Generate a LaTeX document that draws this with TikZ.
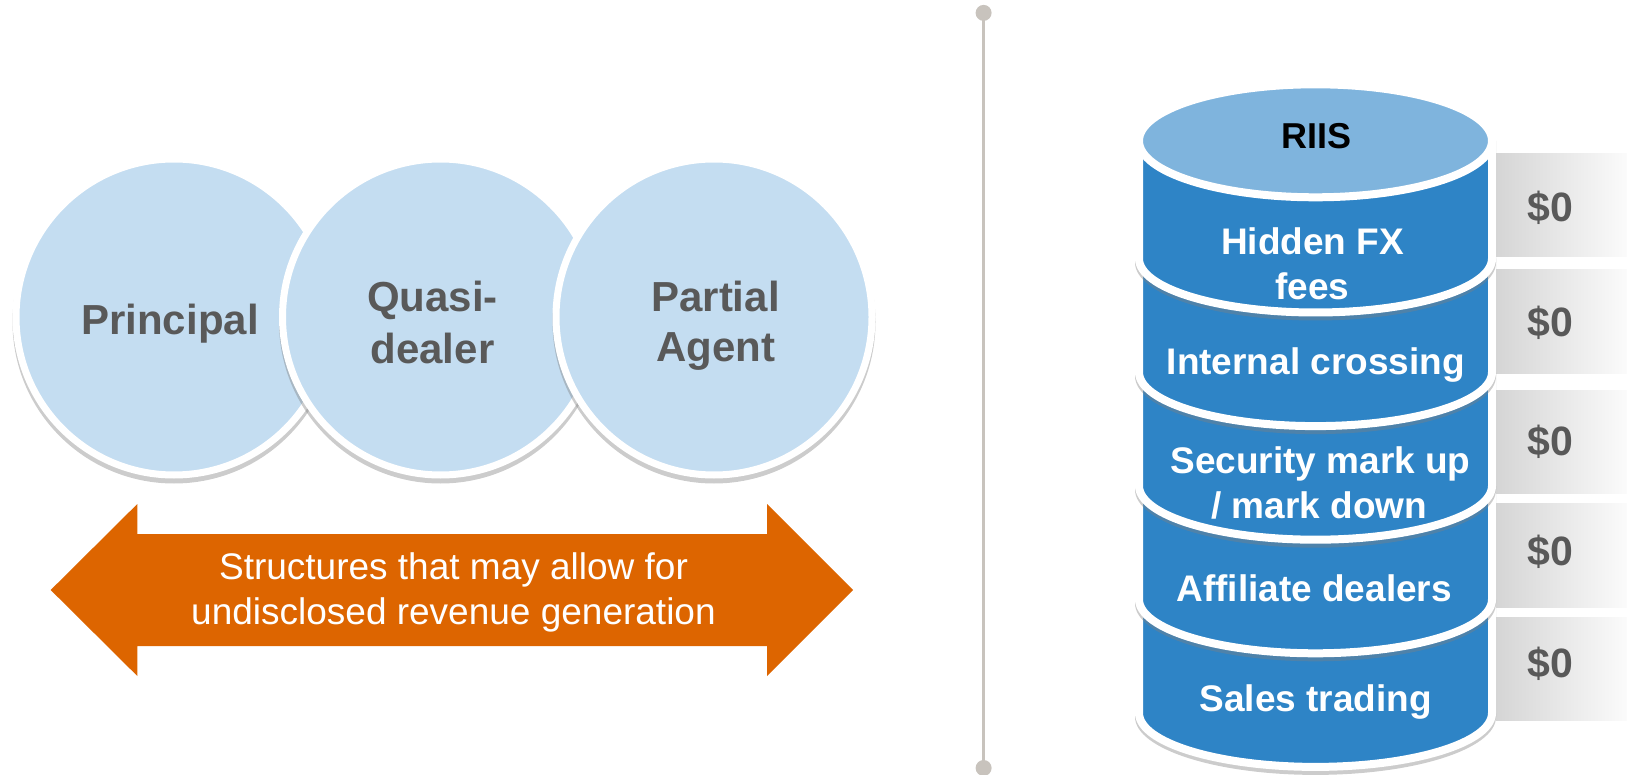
\documentclass[tikz,border=0pt]{standalone}
\usepackage{fontspec}
\setmainfont{Liberation Sans}
\usetikzlibrary{shadings}
\definecolor{circfill}{HTML}{C4DDF1}
\definecolor{txtgray}{HTML}{595959}
\definecolor{arroworange}{HTML}{DD6500}
\definecolor{segblue}{HTML}{2E84C6}
\definecolor{topblue}{HTML}{7FB4DD}
\definecolor{divgray}{HTML}{C8C3BD}
\definecolor{boxL}{HTML}{D5D5D5}
\definecolor{boxR}{HTML}{FBFBFB}
\definecolor{shadowgray}{HTML}{808080}
\tikzset{
  bubble/.style={circle, minimum size=316pt, inner sep=0pt, fill=circfill, draw=white, line width=7pt},
  bubshadow/.style={fill=shadowgray, fill opacity=0.4},
  circlbl/.style={font=\fontsize{42}{50}\selectfont\bfseries, text=txtgray, anchor=base, inner sep=0pt},
  arrowlbl/.style={font=\fontsize{37}{44}\selectfont, text=white, anchor=base, inner sep=0pt},
  seglbl/.style={font=\fontsize{37}{44}\selectfont\bfseries, text=white, anchor=base, inner sep=0pt},
  toplbl/.style={font=\fontsize{36}{43}\selectfont\bfseries, text=black, anchor=base, inner sep=0pt},
  zerolbl/.style={font=\fontsize{41}{49}\selectfont\bfseries, text=txtgray, anchor=base, inner sep=0pt},
  segbody/.style={fill=segblue, draw=white, line width=8pt, line join=round},
  segshadow/.style={fill=shadowgray, fill opacity=0.4},
  topell/.style={fill=topblue, draw=white, line width=8pt},
  valbox/.style={left color=boxL, right color=boxR},
  divline/.style={draw=divgray, line width=3pt},
  divdot/.style={fill=divgray}
}
\newcommand\cylseg[2]{%
  \fill[segshadow] (1135,#1) -- (1135,{#2+4}) arc[start angle=180, end angle=0, x radius=180.5, y radius=58] -- (1496,#1) -- cycle;
  \path[segbody] (1139,#1) -- (1139,#2) arc[start angle=180, end angle=0, x radius=176.5, y radius=54] -- (1492,#1) -- cycle;
}
\begin{document}
\begin{tikzpicture}[x=1pt,y=-1pt]
\useasboundingbox (0,0) rectangle (1627,775);

% ---------- divider ----------
\coordinate (dtop) at (983.6,12.9);
\coordinate (dbot) at (983.6,768);
\draw[divline] (dtop) -- (dbot);
\fill[divdot] (dtop) circle[radius=8];
\fill[divdot] (dbot) circle[radius=8];

% ---------- circles ----------
\fill[bubshadow] (174,322) circle[radius=161.5];
\node[bubble] (c1) at (174,317) {};
\fill[bubshadow] (440.5,322) circle[radius=161.5];
\node[bubble] (c2) at (440.5,317) {};
\fill[bubshadow] (714,322) circle[radius=161.5];
\node[bubble] (c3) at (714,317) {};

\node[circlbl] (l1) at (170,335) {Principal};
\node[circlbl] (l2a) at (432.5,311.7) {Quasi-};
\node[circlbl] (l2b) at (432.5,363.3) {dealer};
\node[circlbl] (l3a) at (715.5,311.7) {Partial};
\node[circlbl] (l3b) at (715.5,362) {Agent};

% ---------- double arrow ----------
\fill[arroworange] (50.7,590) -- (137.3,504) -- (137.3,534) -- (767,534) -- (767,504)
  -- (853,590) -- (767,676) -- (767,646) -- (137.3,646) -- (137.3,676) -- cycle;
\node[arrowlbl] (a1) at (453.5,579.3) {Structures that may allow for};
\node[arrowlbl] (a2) at (453.5,624) {undisclosed revenue generation};

% ---------- value boxes ----------
\shade[valbox] (1496,154) rectangle (1627,257);
\shade[valbox] (1496,270) rectangle (1627,373);
\shade[valbox] (1496,390) rectangle (1627,493);
\shade[valbox] (1496,503) rectangle (1627,607);
\shade[valbox] (1496,617) rectangle (1627,720);
\node[zerolbl] (v1) at (1550.5,221.5) {\$0};
\node[zerolbl] (v2) at (1550.5,336.5) {\$0};
\node[zerolbl] (v3) at (1550.5,455.8) {\$0};
\node[zerolbl] (v4) at (1550.5,565.8) {\$0};
\node[zerolbl] (v5) at (1550.5,677.5) {\$0};

% ---------- cylinder ----------
\cylseg{599.3}{712.9}
\cylseg{485.7}{599.3}
\cylseg{372.1}{485.7}
\cylseg{258.5}{372.1}
\cylseg{140.8}{258.5}
\path[topell] (1315.5,140.8) ellipse[x radius=176.5, y radius=56.5];

\node[toplbl] (riis) at (1316.5,148.3) {RIIS};
\node[seglbl] (s1a) at (1312.5,254.3) {Hidden FX};
\node[seglbl] (s1b) at (1312.5,299.3) {fees};
\node[seglbl] (s2) at (1315.8,374.5) {Internal crossing};
\node[seglbl] (s3a) at (1320.5,473.3) {Security mark up};
\node[seglbl] (s3b) at (1319.2,518.3) {/ mark down};
\node[seglbl] (s4) at (1314.2,601.7) {Affiliate dealers};
\node[seglbl] (s5) at (1315.8,711.7) {Sales trading};
\end{tikzpicture}
\end{document}
